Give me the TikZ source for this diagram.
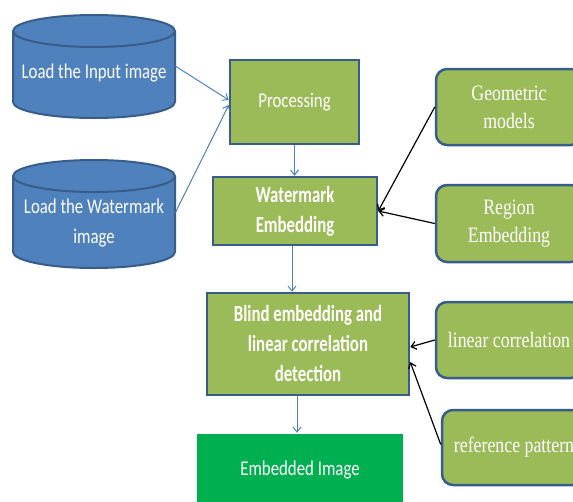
\documentclass[tikz,border=0pt]{standalone}
\usepackage{fontspec}
\usetikzlibrary{arrows.meta}
\newfontfamily\calfont[FakeStretch=0.8]{Carlito}
\newfontfamily\calbfont[FakeStretch=0.73]{Carlito}
\newfontfamily\serfont[FakeStretch=0.81]{Liberation Serif}
\definecolor{cylblue}{HTML}{4F81BD}
\definecolor{edgeblue}{HTML}{385D8A}
\definecolor{boxgreen}{HTML}{9BBB59}
\definecolor{embgreen}{HTML}{00B050}
\tikzset{
  cylshape/.style={fill=cylblue, draw=edgeblue, line width=2pt},
  cyltext/.style={minimum width=162pt, minimum height=40pt, inner sep=0pt, text=white, align=center, font=\calfont\fontsize{21}{30}\selectfont},
  stepbox/.style={rectangle, fill=boxgreen, draw=edgeblue, line width=2.5pt, inner sep=0pt, text=white, align=center, font=\calfont\fontsize{21}{30}\selectfont},
  boldbox/.style={stepbox, font=\calbfont\bfseries\fontsize{23}{30}\selectfont},
  sidebox/.style={rectangle, rounded corners=11pt, fill=boxgreen, draw=edgeblue, line width=2.5pt, inner sep=0pt, text=white, align=center, font=\serfont\fontsize{22}{28}\selectfont},
  bluearrow/.style={draw=cylblue, line width=1pt, -{Straight Barb[length=5pt,width=8pt]}},
  blackarrow/.style={draw=black, line width=1.2pt, -{Straight Barb[length=5pt,width=8pt]}},
}
\begin{document}
\begin{tikzpicture}[x=1pt,y=1pt]
\useasboundingbox (0,0) rectangle (573,-501);
\clip (0,0) rectangle (573,-501);
\fill[white] (0,0) rectangle (573,-501);
% cylinder 1
\path[cylshape] (13,-31) -- (13,-102) arc[start angle=180,end angle=360,x radius=81,y radius=16] -- (175,-31) arc[start angle=0,end angle=180,x radius=81,y radius=16] -- cycle;
\draw[edgeblue, line width=2pt] (13,-31) arc[start angle=180,end angle=360,x radius=81,y radius=16];
\node[cyltext] (in) at (94,-73) {Load the Input image};
% cylinder 2
\path[cylshape] (13,-176) -- (13,-252) arc[start angle=180,end angle=360,x radius=81,y radius=16] -- (175,-176) arc[start angle=0,end angle=180,x radius=81,y radius=16] -- cycle;
\draw[edgeblue, line width=2pt] (13,-176) arc[start angle=180,end angle=360,x radius=81,y radius=16];
\node[cyltext, minimum height=60pt] (wm) at (94,-223) {Load the Watermark\\image};
% main boxes
\node[stepbox, minimum width=129pt, minimum height=84pt] (proc) at (294.5,-102) {Processing};
\node[boldbox, minimum width=164pt, minimum height=68pt] (we) at (295,-211) {Watermark\\Embedding};
\node[boldbox, minimum width=202pt, minimum height=102pt] (blind) at (308,-344) {Blind embedding and\\linear correlation\\detection};
\node[stepbox, fill=embgreen, draw=none, minimum width=206pt, minimum height=72pt] (emb) at (300,-470) {Embedded Image};
% side boxes
\node[sidebox, minimum width=146pt, minimum height=76pt] (geo) at (509,-107) {Geometric\\models};
\node[sidebox, minimum width=146pt, minimum height=77pt] (reg) at (509,-223.5) {Region\\Embedding};
\node[sidebox, minimum width=146pt, minimum height=76pt] (lin) at (509,-340) {linear correlation};
\node[sidebox, minimum width=144pt, minimum height=75pt] (ref) at (514,-447.5) {reference pattern};
% connectors
\draw[bluearrow] ([yshift=7pt]in.east) -- ([yshift=2pt]proc.west);
\draw[bluearrow] ([yshift=10pt]wm.east) -- ([yshift=-3pt]proc.west);
\draw[bluearrow] (proc.south) -- (proc.south |- we.north);
\draw[bluearrow] ([xshift=-3pt]we.south) -- ([xshift=-3pt]we.south |- blind.north);
\draw[bluearrow] ([xshift=-11pt]blind.south) -- ([xshift=-11pt]blind.south |- emb.north);
\draw[blackarrow] (geo.west) -- (we.east);
\draw[blackarrow] (reg.west) -- (we.east);
\draw[blackarrow] (lin.west) -- ([yshift=-3pt]blind.east);
\draw[blackarrow] ([yshift=3pt]ref.west) -- ([yshift=-18pt]blind.east);
\end{tikzpicture}
\end{document}
